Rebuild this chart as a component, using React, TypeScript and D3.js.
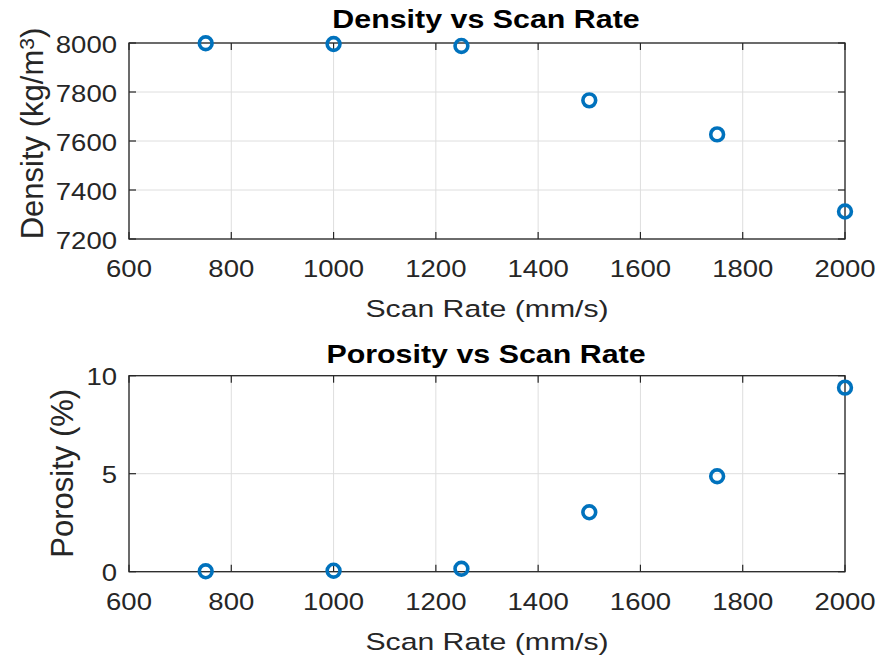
import React from "react";
import * as d3 from "d3";

// Scan rates (mm/s) and measured values
const scanRates = [750, 1000, 1250, 1500, 1750, 2000];
const density = [7999, 7996, 7988, 7766, 7627, 7312];
const porosity = [0.02, 0.05, 0.15, 3.03, 4.87, 9.39];

const xTicks = [600, 800, 1000, 1200, 1400, 1600, 1800, 2000];
const densityTicks = [7200, 7400, 7600, 7800, 8000];
const porosityTicks = [0, 5, 10];

const W = 878;
const H = 659;
const FONT = "'Liberation Sans', Arial, Helvetica, sans-serif";
const AXIS = "#262626";
const GRID = "#dedede";
const MARK = "#0072BD";

type PanelProps = {
  top: number;
  bottom: number;
  yDomain: [number, number];
  yTicks: number[];
  values: number[];
  title: string;
  titleBaseline: number;
  yLabel: React.ReactNode;
  yLabelX: number;
  yLabelY: number;
};

const LEFT = 129;
const RIGHT = 845;
const TICK_LEN = 7;

function Panel(p: PanelProps) {
  const x = d3.scaleLinear().domain([600, 2000]).range([LEFT, RIGHT]);
  const y = d3.scaleLinear().domain(p.yDomain).range([p.bottom, p.top]);
  const cx = (LEFT + RIGHT) / 2;
  return (
    <g>
      {/* grid */}
      {xTicks.map((t) => (
        <line key={"gx" + t} x1={x(t)} x2={x(t)} y1={p.top} y2={p.bottom} stroke={GRID} strokeWidth={1} />
      ))}
      {p.yTicks.map((t) => (
        <line key={"gy" + t} x1={LEFT} x2={RIGHT} y1={y(t)} y2={y(t)} stroke={GRID} strokeWidth={1} />
      ))}
      {/* inward ticks on all four sides */}
      {xTicks.map((t) => (
        <g key={"tx" + t}>
          <line x1={x(t)} x2={x(t)} y1={p.bottom} y2={p.bottom - TICK_LEN} stroke={AXIS} strokeWidth={1.2} />
          <line x1={x(t)} x2={x(t)} y1={p.top} y2={p.top + TICK_LEN} stroke={AXIS} strokeWidth={1.2} />
        </g>
      ))}
      {p.yTicks.map((t) => (
        <g key={"ty" + t}>
          <line x1={LEFT} x2={LEFT + TICK_LEN} y1={y(t)} y2={y(t)} stroke={AXIS} strokeWidth={1.2} />
          <line x1={RIGHT} x2={RIGHT - TICK_LEN} y1={y(t)} y2={y(t)} stroke={AXIS} strokeWidth={1.2} />
        </g>
      ))}
      {/* box */}
      <rect x={LEFT} y={p.top} width={RIGHT - LEFT} height={p.bottom - p.top} fill="none" stroke={AXIS} strokeWidth={1.3} />
      {/* tick labels */}
      {xTicks.map((t) => (
        <text
          key={"lx" + t}
          transform={`translate(${x(t)},${p.bottom + 38}) scale(1,0.85)`}
          textAnchor="middle"
          fontSize={27.5}
          fill={AXIS}
        >
          {t}
        </text>
      ))}
      {p.yTicks.map((t) => (
        <text
          key={"ly" + t}
          transform={`translate(117,${y(t) + 9.5}) scale(1,0.85)`}
          textAnchor="end"
          fontSize={27.5}
          fill={AXIS}
        >
          {t}
        </text>
      ))}
      {/* x label */}
      <text
        transform={`translate(${cx},${p.bottom + 78}) scale(1,0.8)`}
        textAnchor="middle"
        fontSize={30.2}
        fill={AXIS}
      >
        Scan Rate (mm/s)
      </text>
      {/* y label */}
      <text
        transform={`translate(${p.yLabelX},${p.yLabelY}) rotate(-90)`}
        textAnchor="middle"
        fontSize={31}
        fill={AXIS}
      >
        {p.yLabel}
      </text>
      {/* title */}
      <text
        transform={`translate(${cx - 1},${p.titleBaseline}) scale(1,0.84)`}
        textAnchor="middle"
        fontSize={30.4}
        fontWeight="bold"
        fill="#000"
      >
        {p.title}
      </text>
      {/* markers */}
      {scanRates.map((s, i) => (
        <circle key={"m" + s} cx={x(s)} cy={y(p.values[i])} r={6.4} fill="none" stroke={MARK} strokeWidth={3.6} />
      ))}
    </g>
  );
}

export default function App() {
  return (
    <svg
      width={W}
      height={H}
      viewBox={`0 0 ${W} ${H}`}
      style={{ position: "absolute", left: 0, top: 0, background: "#fff", fontFamily: FONT }}
    >
      <rect width={W} height={H} fill="#fff" />
      <Panel
        top={43}
        bottom={239}
        yDomain={[7200, 8000]}
        yTicks={densityTicks}
        values={density}
        title="Density vs Scan Rate"
        titleBaseline={28.3}
        yLabel={
          <>
            Density (kg/m
            <tspan fontSize="0.68em" dy="-0.45em">3</tspan>
            <tspan dy="0.3em">)</tspan>
          </>
        }
        yLabelX={43}
        yLabelY={133.5}
      />
      <Panel
        top={375.7}
        bottom={571.7}
        yDomain={[0, 10]}
        yTicks={porosityTicks}
        values={porosity}
        title="Porosity vs Scan Rate"
        titleBaseline={363.3}
        yLabel="Porosity (%)"
        yLabelX={73}
        yLabelY={473.3}
      />
    </svg>
  );
}
